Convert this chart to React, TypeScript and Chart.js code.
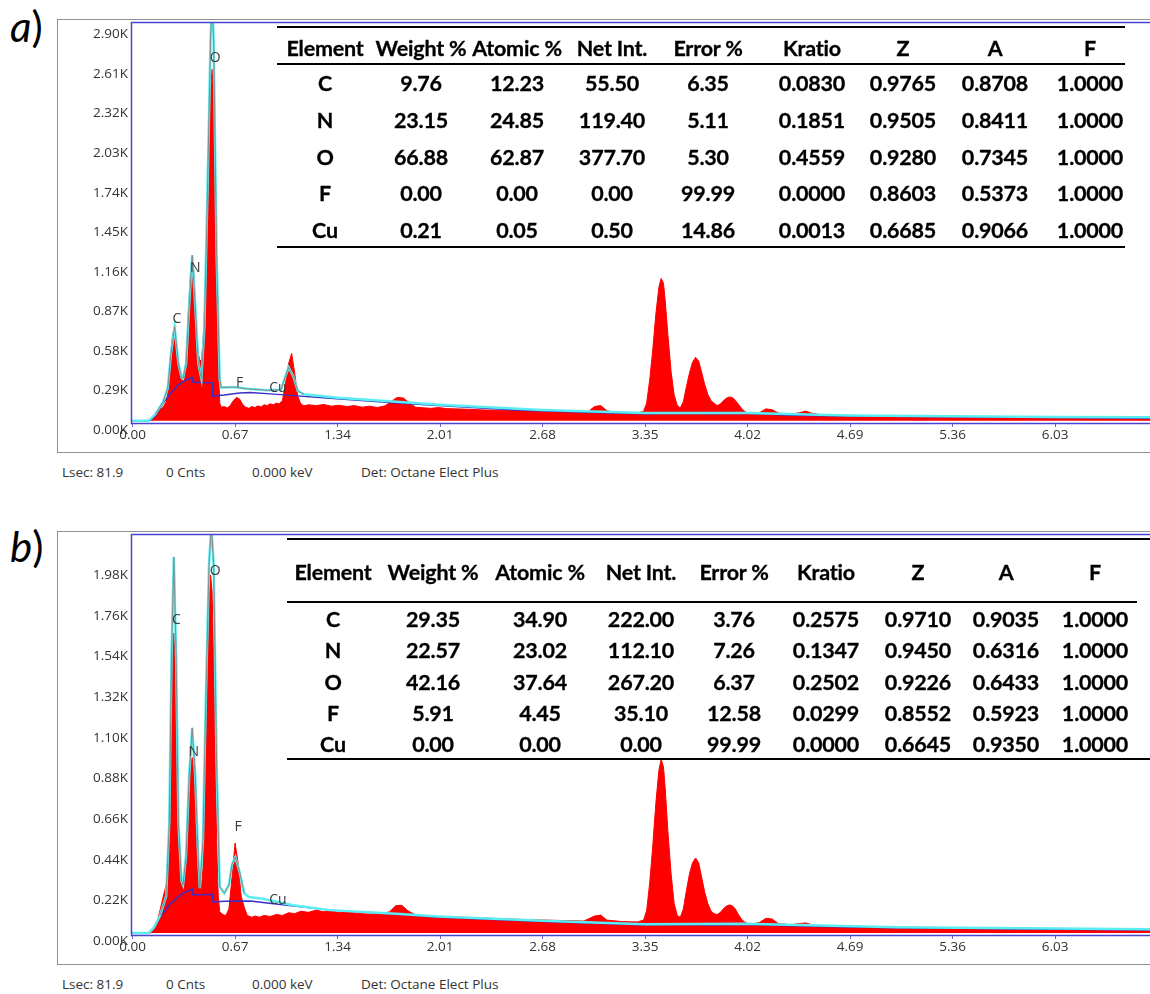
import React, { useEffect, useRef } from "react";
import { Chart, registerables } from "chart.js";
Chart.register(...registerables);

type P = [number, number];

// ---------- axis ticks ----------
const X_TICKS = [0, 0.67, 1.34, 2.01, 2.68, 3.35, 4.02, 4.69, 5.36, 6.03];
const X_TICK_LABELS = ["0.00", "0.67", "1.34", "2.01", "2.68", "3.35", "4.02", "4.69", "5.36", "6.03"];
const Y_TICKS_A = [0, 290, 580, 870, 1160, 1450, 1740, 2030, 2320, 2610, 2900];
const Y_TICK_LABELS_A = ["0.00K", "0.29K", "0.58K", "0.87K", "1.16K", "1.45K", "1.74K", "2.03K", "2.32K", "2.61K", "2.90K"];
const Y_TICKS_B = [0, 220, 440, 660, 880, 1100, 1320, 1540, 1760, 1980];
const Y_TICK_LABELS_B = ["0.00K", "0.22K", "0.44K", "0.66K", "0.88K", "1.10K", "1.32K", "1.54K", "1.76K", "1.98K"];

// ---------- spectrum a (keV, counts) ----------
const RED_A: P[] = [
  [0, 0], [0.1, 0], [0.12, 15], [0.14, 40], [0.16, 60], [0.18, 85], [0.2, 100], [0.22, 140], [0.23, 200],
  [0.24, 330], [0.25, 500], [0.26, 610], [0.27, 670], [0.28, 650], [0.29, 540], [0.3, 430], [0.31, 340],
  [0.32, 300], [0.33, 295], [0.34, 330], [0.35, 450], [0.36, 680], [0.37, 900], [0.38, 1100], [0.39, 1180],
  [0.4, 1100], [0.41, 860], [0.42, 620], [0.43, 490], [0.44, 445], [0.45, 440], [0.46, 560], [0.47, 800],
  [0.48, 1150], [0.49, 1600], [0.5, 2050], [0.51, 2420], [0.52, 2580], [0.53, 2380], [0.54, 1800], [0.55, 1000],
  [0.56, 420], [0.57, 130], [0.58, 100], [0.6, 105], [0.62, 95], [0.64, 115], [0.66, 150], [0.68, 172],
  [0.7, 160], [0.72, 120], [0.74, 100], [0.76, 92], [0.78, 105], [0.8, 98], [0.82, 110], [0.84, 102],
  [0.86, 118], [0.88, 112], [0.9, 125], [0.92, 118], [0.94, 130], [0.96, 125], [0.98, 150], [1.0, 280],
  [1.02, 420], [1.04, 495], [1.06, 350], [1.08, 180], [1.1, 125], [1.12, 110], [1.15, 118], [1.2, 112],
  [1.25, 120], [1.3, 108], [1.35, 115], [1.4, 105], [1.45, 112], [1.5, 100], [1.55, 108], [1.6, 98],
  [1.65, 110], [1.7, 150], [1.73, 172], [1.77, 168], [1.8, 140], [1.85, 100], [1.9, 96], [1.95, 92],
  [2.0, 98], [2.05, 90], [2.1, 88], [2.2, 85], [2.3, 80], [2.4, 78], [2.5, 75], [2.6, 72], [2.7, 70],
  [2.8, 66], [2.9, 64], [2.98, 70], [3.02, 105], [3.06, 112], [3.1, 75], [3.15, 60], [3.2, 58], [3.25, 62],
  [3.3, 58], [3.34, 70], [3.36, 130], [3.38, 300], [3.4, 520], [3.42, 780], [3.44, 980], [3.455, 1045],
  [3.47, 1010], [3.48, 900], [3.5, 620], [3.52, 360], [3.54, 190], [3.56, 115], [3.58, 95], [3.6, 140],
  [3.62, 250], [3.64, 350], [3.66, 430], [3.68, 466], [3.7, 440], [3.72, 355], [3.74, 265], [3.76, 195],
  [3.78, 150], [3.8, 130], [3.82, 112], [3.84, 122], [3.86, 145], [3.88, 165], [3.9, 175], [3.92, 172],
  [3.94, 150], [3.96, 122], [3.98, 92], [4.0, 70], [4.02, 56], [4.06, 52], [4.1, 62], [4.14, 88],
  [4.18, 82], [4.22, 58], [4.26, 50], [4.3, 48], [4.36, 60], [4.4, 72], [4.44, 55], [4.5, 45], [4.6, 40],
  [4.8, 37], [5.0, 34], [5.2, 32], [5.5, 30], [5.8, 28], [6.1, 26], [6.4, 24], [6.65, 23],
];
const BG_A: P[] = [
  [0, 0], [0.1, 0], [0.12, 5], [0.15, 40], [0.2, 128], [0.25, 205], [0.3, 265], [0.35, 300], [0.39, 318],
  [0.395, 285], [0.45, 282], [0.52, 280], [0.525, 182], [0.6, 190], [0.7, 205], [0.77, 208], [0.9, 198],
  [1.03, 187], [1.29, 165], [1.5, 150], [1.75, 130], [2.0, 112], [2.5, 80], [3.0, 62], [3.35, 52],
  [3.6, 55], [3.8, 52], [4.0, 55], [4.3, 42], [4.69, 36], [5.36, 30], [6.03, 24], [6.65, 20],
];
const FIT_A: P[] = [
  [0, 0], [0.105, 0], [0.15, 50], [0.2, 140], [0.23, 240], [0.25, 480], [0.275, 690], [0.3, 420],
  [0.32, 320], [0.33, 312], [0.35, 420], [0.37, 850], [0.39, 1215], [0.41, 850], [0.43, 420], [0.45, 312],
  [0.47, 700], [0.49, 1700], [0.51, 2800], [0.52, 3100], [0.53, 2800], [0.55, 1200], [0.57, 300],
  [0.58, 245], [0.66, 248], [0.75, 235], [0.88, 224], [0.97, 228], [1.0, 330], [1.02, 393], [1.05, 330],
  [1.08, 220], [1.12, 195], [1.34, 170], [1.75, 138], [2.01, 118], [2.68, 80], [3.35, 58], [4.02, 58],
  [4.69, 40], [5.36, 34], [6.03, 29], [6.65, 26],
];
const GRAY_RANGE_A: P = [0.15, 1.12];
const PEAK_NAMES = ["C", "N", "O", "F", "Cu"];
const PEAK_LABEL_POS_A: P[] = [[0.29, 745], [0.41, 1120], [0.54, 2660], [0.7, 275], [0.95, 240]];

// ---------- spectrum b ----------
const RED_B: P[] = [
  [0, 0], [0.12, 0], [0.14, 20], [0.16, 60], [0.18, 124], [0.2, 195], [0.22, 260], [0.23, 330], [0.24, 600],
  [0.25, 1100], [0.26, 1500], [0.27, 1623], [0.28, 1450], [0.29, 950], [0.3, 560], [0.31, 380], [0.32, 300],
  [0.33, 287], [0.34, 330], [0.35, 450], [0.36, 620], [0.37, 800], [0.38, 920], [0.39, 950], [0.4, 880],
  [0.41, 700], [0.42, 470], [0.43, 320], [0.44, 260], [0.45, 250], [0.46, 350], [0.47, 650], [0.48, 1050],
  [0.49, 1450], [0.5, 1780], [0.51, 1937], [0.52, 1850], [0.53, 1500], [0.54, 1000], [0.55, 500],
  [0.56, 200], [0.57, 115], [0.59, 100], [0.61, 95], [0.63, 130], [0.65, 300], [0.67, 487], [0.69, 380],
  [0.71, 200], [0.73, 140], [0.75, 95], [0.78, 85], [0.8, 92], [0.83, 86], [0.86, 95], [0.9, 90], [0.94, 100],
  [0.98, 95], [1.02, 110], [1.06, 105], [1.1, 118], [1.15, 112], [1.2, 124], [1.25, 115], [1.3, 120],
  [1.35, 110], [1.4, 112], [1.5, 105], [1.6, 100], [1.68, 115], [1.72, 148], [1.76, 150], [1.8, 120],
  [1.85, 98], [1.9, 92], [2.0, 88], [2.1, 86], [2.2, 84], [2.4, 78], [2.6, 72], [2.8, 68], [2.95, 65],
  [3.02, 92], [3.06, 97], [3.1, 70], [3.2, 62], [3.3, 60], [3.34, 70], [3.36, 120], [3.38, 270], [3.4, 470],
  [3.42, 700], [3.44, 880], [3.455, 940], [3.47, 900], [3.48, 800], [3.5, 540], [3.52, 320], [3.54, 160],
  [3.56, 95], [3.58, 85], [3.6, 130], [3.62, 230], [3.64, 320], [3.66, 380], [3.68, 406], [3.7, 380],
  [3.72, 300], [3.74, 220], [3.76, 160], [3.78, 120], [3.8, 105], [3.82, 100], [3.84, 110], [3.86, 130],
  [3.88, 145], [3.9, 152], [3.92, 148], [3.94, 130], [3.96, 100], [3.98, 75], [4.0, 60], [4.02, 52],
  [4.06, 50], [4.1, 58], [4.14, 80], [4.18, 76], [4.22, 52], [4.3, 45], [4.4, 55], [4.45, 42], [4.6, 38],
  [5.0, 32], [5.5, 28], [6.0, 25], [6.65, 22],
];
const BG_B: P[] = [
  [0, 0], [0.105, 0], [0.14, 30], [0.18, 86], [0.25, 162], [0.33, 216], [0.39, 238], [0.395, 206],
  [0.52, 210], [0.525, 168], [0.6, 172], [0.77, 173], [0.88, 162], [1.29, 124], [1.75, 100], [2.0, 86],
  [2.68, 62], [3.35, 43], [3.6, 46], [3.8, 44], [4.0, 46], [4.5, 35], [5.0, 28], [6.03, 20], [6.65, 16],
];
const FIT_B: P[] = [
  [0, 0], [0.105, 0], [0.14, 30], [0.18, 95], [0.22, 200], [0.24, 600], [0.255, 1500], [0.27, 2035],
  [0.285, 1500], [0.3, 600], [0.32, 280], [0.33, 260], [0.35, 420], [0.37, 850], [0.39, 1110], [0.41, 850],
  [0.43, 400], [0.44, 243], [0.46, 500], [0.48, 1300], [0.5, 2000], [0.515, 2200], [0.53, 2000],
  [0.55, 900], [0.57, 250], [0.6, 216], [0.63, 260], [0.65, 370], [0.672, 411], [0.7, 330], [0.73, 215],
  [0.76, 195], [0.85, 185], [0.95, 168], [1.05, 150], [1.29, 124], [1.75, 103], [2.0, 90], [2.68, 66],
  [3.35, 47], [4.0, 50], [5.0, 32], [6.65, 20],
];
const GRAY_RANGE_B: P = [0.15, 0.74];
const PEAK_LABEL_POS_B: P[] = [[0.287, 1694], [0.4, 980], [0.54, 1960], [0.69, 574], [0.95, 179]];

// ---------- tables ----------
const TABLE_HEADERS = ["Element", "Weight %", "Atomic %", "Net Int.", "Error %", "Kratio", "Z", "A", "F"];
const ROWS_A = [
  ["C", "9.76", "12.23", "55.50", "6.35", "0.0830", "0.9765", "0.8708", "1.0000"],
  ["N", "23.15", "24.85", "119.40", "5.11", "0.1851", "0.9505", "0.8411", "1.0000"],
  ["O", "66.88", "62.87", "377.70", "5.30", "0.4559", "0.9280", "0.7345", "1.0000"],
  ["F", "0.00", "0.00", "0.00", "99.99", "0.0000", "0.8603", "0.5373", "1.0000"],
  ["Cu", "0.21", "0.05", "0.50", "14.86", "0.0013", "0.6685", "0.9066", "1.0000"],
];
const ROWS_B = [
  ["C", "29.35", "34.90", "222.00", "3.76", "0.2575", "0.9710", "0.9035", "1.0000"],
  ["N", "22.57", "23.02", "112.10", "7.26", "0.1347", "0.9450", "0.6316", "1.0000"],
  ["O", "42.16", "37.64", "267.20", "6.37", "0.2502", "0.9226", "0.6433", "1.0000"],
  ["F", "5.91", "4.45", "35.10", "12.58", "0.0299", "0.8552", "0.5923", "1.0000"],
  ["Cu", "0.00", "0.00", "0.00", "99.99", "0.0000", "0.6645", "0.9350", "1.0000"],
];
const FOOTER = ["Lsec: 81.9", "0 Cnts", "0.000 keV", "Det: Octane Elect Plus"];

const toXY = (a: P[]) => a.map(([x, y]) => ({ x, y }));

type SpecProps = {
  top: number;
  red: P[];
  bg: P[];
  fit: P[];
  grayRange: P;
  yMin: number;
  yMax: number;
  yTicks: number[];
  yLabels: string[];
  labelOffset: number;
  peakPos: P[];
};

function Spectrum(p: SpecProps) {
  const ref = useRef<HTMLCanvasElement | null>(null);
  useEffect(() => {
    if (!ref.current) return;
    const frame = {
      id: "frame",
      afterDraw(chart: any) {
        const { ctx, chartArea: a } = chart;
        ctx.save();
        ctx.strokeStyle = "#4a44d4";
        ctx.lineWidth = 1.5;
        ctx.beginPath();
        ctx.moveTo(a.left, a.top + 0.5);
        ctx.lineTo(a.right + 5, a.top + 0.5);
        ctx.moveTo(a.left + 0.5, a.top);
        ctx.lineTo(a.left + 0.5, a.bottom);
        ctx.moveTo(a.left, a.bottom - 0.5);
        ctx.lineTo(a.right + 5, a.bottom - 0.5);
        ctx.stroke();
        ctx.restore();
      },
    };
    const labels = {
      id: "peakLabels",
      afterDatasetsDraw(chart: any) {
        const { ctx } = chart;
        const xs = chart.scales.x;
        const ys = chart.scales.y;
        ctx.save();
        ctx.font = '14px "Open Sans"';
        ctx.fillStyle = "#3a3a3a";
        ctx.textAlign = "center";
        ctx.textBaseline = "middle";
        p.peakPos.forEach(([e, c], i) => {
          ctx.fillText(PEAK_NAMES[i], xs.getPixelForValue(e), ys.getPixelForValue(c));
        });
        ctx.restore();
      },
    };
    const tickFont = { family: "Open Sans", size: 13.5 };
    const chart = new Chart(ref.current, {
      type: "line",
      data: {
        datasets: [
          {
            label: "peak fit",
            data: toXY(p.fit),
            borderColor: "#8a8a8a",
            borderWidth: 1,
            pointRadius: 0,
            fill: false,
            order: 1,
            segment: {
              borderColor: (c: any) =>
                c.p0.parsed.x >= p.grayRange[0] && c.p1.parsed.x <= p.grayRange[1] ? "#8a8a8a" : "rgba(0,0,0,0)",
            },
          } as any,
          {
            label: "fit",
            data: toXY(p.fit),
            borderColor: "#5aeef2",
            borderWidth: 2.5,
            pointRadius: 0,
            fill: false,
            order: 2,
          },
          {
            label: "background",
            data: toXY(p.bg),
            borderColor: "#3a2fc4",
            borderWidth: 1.5,
            pointRadius: 0,
            fill: false,
            order: 3,
          },
          {
            label: "spectrum",
            data: toXY(p.red),
            borderColor: "#ff0000",
            backgroundColor: "#ff0000",
            borderWidth: 1,
            pointRadius: 0,
            fill: "origin",
            order: 4,
          },
        ],
      },
      options: {
        animation: false,
        responsive: false,
        events: [],
        layout: { padding: { top: 2, left: 0, right: 0, bottom: 0 } },
        plugins: { legend: { display: false }, tooltip: { enabled: false } },
        scales: {
          x: {
            type: "linear",
            min: -0.01,
            max: 6.65,
            afterBuildTicks: (s: any) => {
              s.ticks = X_TICKS.map((v) => ({ value: v }));
            },
            afterFit: (s: any) => {
              s.height = 28;
              s.paddingLeft = 0;
              s.paddingRight = 0;
            },
            ticks: {
              callback: (_v: any, i: number) => X_TICK_LABELS[i],
              font: tickFont,
              color: "#333",
              padding: 0,
              maxRotation: 0,
              autoSkip: false,
            },
            grid: { display: true, drawOnChartArea: false, drawTicks: true, tickLength: 3, color: "#6a66d8" },
            border: { display: false },
          },
          y: {
            type: "linear",
            min: p.yMin,
            max: p.yMax,
            afterBuildTicks: (s: any) => {
              s.ticks = p.yTicks.map((v) => ({ value: v }));
            },
            afterFit: (s: any) => {
              s.width = 73;
              s.paddingTop = 0;
              s.paddingBottom = 0;
            },
            ticks: {
              callback: (_v: any, i: number) => p.yLabels[i],
              font: tickFont,
              color: "#333",
              padding: 3,
              labelOffset: p.labelOffset,
              autoSkip: false,
            },
            grid: { display: false, drawTicks: false },
            border: { display: false },
          },
        },
      } as any,
      plugins: [frame, labels],
    });
    return () => chart.destroy();
  }, []);
  return (
    <div
      style={{
        position: "absolute",
        left: 57,
        top: p.top,
        width: 1200,
        height: 432,
        border: "1px solid #8e8e8e",
      }}
    >
      <canvas ref={ref} width={1092} height={432} style={{ display: "block" }} />
    </div>
  );
}

type TableProps = {
  rows: string[][];
  cols: number[];
  headerY: number;
  rowYs: number[];
  lines: { y: number; x1: number; x2: number }[];
};

function DataTable({ rows, cols, headerY, rowYs, lines }: TableProps) {
  const cell = (text: string, x: number, y: number, key: string) => (
    <div
      key={key}
      style={{
        position: "absolute",
        left: x,
        top: y,
        transform: "translate(-50%, -50%)",
        whiteSpace: "nowrap",
        fontFamily: "Lato, 'Open Sans', sans-serif",
        fontWeight: 700,
        fontSize: 21.5,
        lineHeight: "26px",
        letterSpacing: "-0.2px",
        color: "#000",
        WebkitTextStroke: "0.3px #000",
      }}
    >
      {text}
    </div>
  );
  return (
    <>
      {lines.map((l, i) => (
        <div
          key={"l" + i}
          style={{ position: "absolute", left: l.x1, top: l.y - 1, width: l.x2 - l.x1, height: 2, background: "#000" }}
        />
      ))}
      {TABLE_HEADERS.map((h, i) => cell(h, cols[i], headerY, "h" + i))}
      {rows.map((r, ri) => r.map((v, ci) => cell(v, cols[ci], rowYs[ri], `r${ri}c${ci}`)))}
    </>
  );
}

function Footer({ y }: { y: number }) {
  const xs = [62, 166, 252, 361];
  return (
    <>
      {FOOTER.map((t, i) => (
        <div
          key={i}
          style={{
            position: "absolute",
            left: xs[i],
            top: y - 10,
            height: 20,
            lineHeight: "20px",
            fontFamily: "'Open Sans', sans-serif",
            fontSize: 13.5,
            color: "#333",
            whiteSpace: "nowrap",
          }}
        >
          {t}
        </div>
      ))}
    </>
  );
}

function PanelLetter({ letter, top }: { letter: string; top: number }) {
  return (
    <div
      style={{
        position: "absolute",
        left: 10,
        top,
        fontFamily: "Lato, sans-serif",
        fontSize: 42,
        lineHeight: "42px",
        color: "#000",
      }}
    >
      <span style={{ fontStyle: "italic" }}>{letter}</span>)
    </div>
  );
}

export default function App() {
  return (
    <div
      style={{
        position: "absolute",
        left: 0,
        top: 0,
        width: 1150,
        height: 994,
        overflow: "hidden",
        background: "#fff",
      }}
    >
      <Spectrum
        top={19}
        red={RED_A}
        bg={BG_A}
        fit={FIT_A}
        grayRange={GRAY_RANGE_A}
        yMin={-23}
        yMax={2926}
        yTicks={Y_TICKS_A}
        yLabels={Y_TICK_LABELS_A}
        labelOffset={9}
        peakPos={PEAK_LABEL_POS_A}
      />
      <DataTable
        rows={ROWS_A}
        cols={[325, 421, 517, 612, 708, 812, 903, 995, 1090]}
        headerY={48}
        rowYs={[83, 120, 157, 193, 230]}
        lines={[
          { y: 27, x1: 277, x2: 1125 },
          { y: 64, x1: 277, x2: 1125 },
          { y: 247, x1: 277, x2: 1125 },
        ]}
      />
      <Footer y={472} />
      <PanelLetter letter="a" top={5} />

      <Spectrum
        top={531}
        red={RED_B}
        bg={BG_B}
        fit={FIT_B}
        grayRange={GRAY_RANGE_B}
        yMin={-16}
        yMax={2159}
        yTicks={Y_TICKS_B}
        yLabels={Y_TICK_LABELS_B}
        labelOffset={8}
        peakPos={PEAK_LABEL_POS_B}
      />
      <DataTable
        rows={ROWS_B}
        cols={[333, 433, 540, 641, 734, 826, 918, 1006, 1095]}
        headerY={572}
        rowYs={[619, 650, 682, 713, 744]}
        lines={[
          { y: 539, x1: 287, x2: 1150 },
          { y: 602, x1: 287, x2: 1137 },
          { y: 759, x1: 287, x2: 1150 },
        ]}
      />
      <Footer y={984} />
      <PanelLetter letter="b" top={525} />
    </div>
  );
}
